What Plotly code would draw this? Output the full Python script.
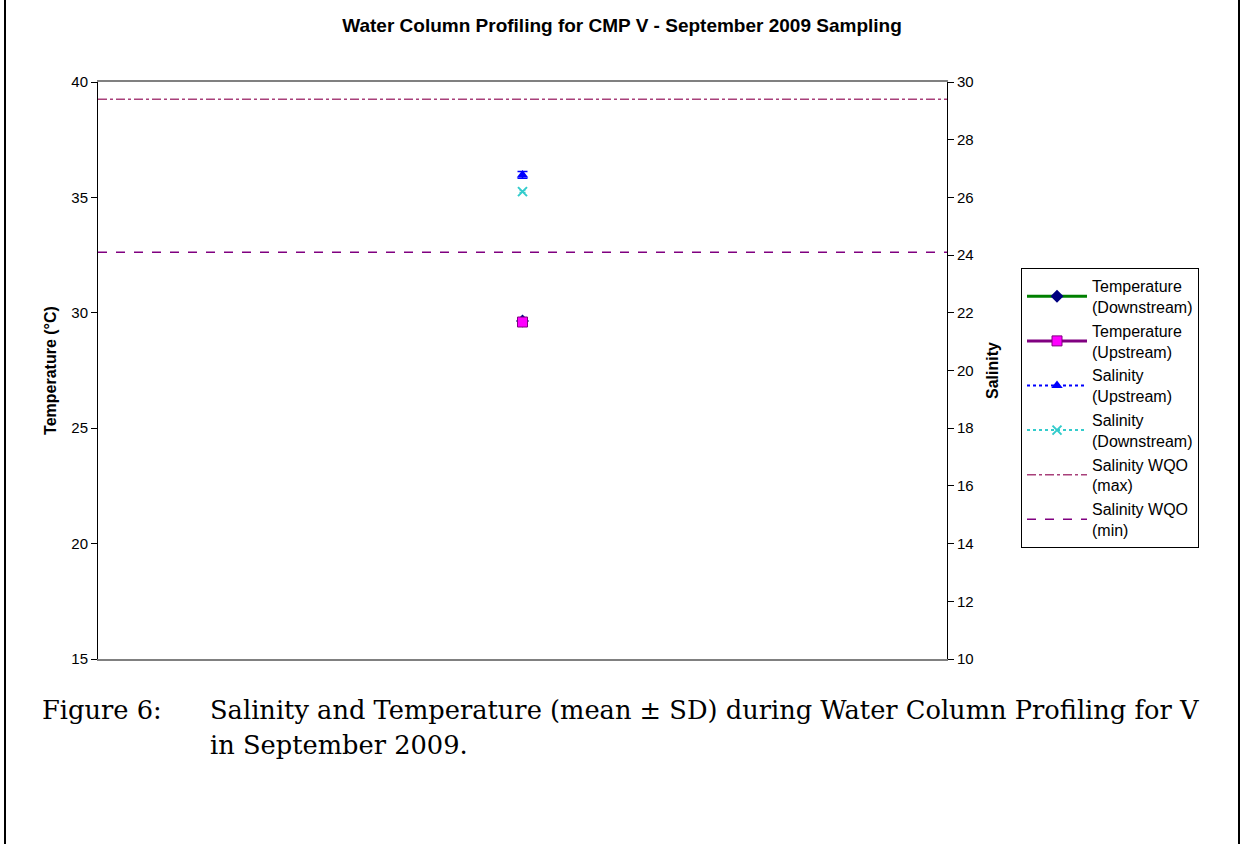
import plotly.graph_objects as go

# ---- data ----
categories = [0]
x_span = [-0.5, 0.5]
temp_down = [29.65]
temp_down_sd = [0.05]
temp_up = [29.6]
temp_up_sd = [0.08]
sal_up = [26.78]
sal_up_sd = [0.12]
sal_down = [26.2]
sal_down_sd = [0.03]
wqo_max = [29.4, 29.4]
wqo_min = [24.1, 24.1]

W, H = 1243, 844
L, R, T, B = 98, 947, 82, 659
pw, ph = R - L, B - T

def px(p):
    return (p - L) / pw

def py(q):
    return (B - q) / ph

fig = go.Figure()

fig.add_trace(go.Scatter(
    x=categories, y=temp_down, name="Temperature<br>(Downstream)", mode="lines+markers",
    legendgroup="g1",
    line=dict(color="#008000", width=3),
    marker=dict(symbol="diamond", size=10, color="#000080"),
    error_y=dict(type="data", array=temp_down_sd, color="#000080", thickness=1, width=3),
    yaxis="y"))
fig.add_trace(go.Scatter(
    x=categories, y=temp_up, name="Temperature<br>(Upstream)", mode="lines+markers",
    legendgroup="g2",
    line=dict(color="#800080", width=3),
    marker=dict(symbol="square", size=10, color="#FF00FF", line=dict(color="#800080", width=1)),
    error_y=dict(type="data", array=temp_up_sd, color="#800080", thickness=1, width=3),
    yaxis="y"))
fig.add_trace(go.Scatter(
    x=categories, y=sal_up, name="Salinity<br>(Upstream)", mode="lines+markers",
    legendgroup="g3",
    line=dict(color="#0000FF", width=2, dash="dot"),
    marker=dict(symbol="triangle-up", size=10, color="#0000FF"),
    error_y=dict(type="data", array=sal_up_sd, color="#0000FF", thickness=1.5, width=5),
    yaxis="y2"))
fig.add_trace(go.Scatter(
    x=categories, y=sal_down, name="Salinity<br>(Downstream)", mode="lines+markers",
    legendgroup="g4",
    line=dict(color="#33CCCC", width=2, dash="dot"),
    marker=dict(symbol="x-thin", size=9, color="#33CCCC", line=dict(color="#33CCCC", width=2)),
    error_y=dict(type="data", array=sal_down_sd, color="#33CCCC", thickness=1, width=3),
    yaxis="y2"))
fig.add_trace(go.Scatter(
    x=x_span, y=wqo_max, name="Salinity WQO<br>(max)", mode="lines",
    legendgroup="g5",
    line=dict(color="#A8407A", width=1.5, dash="dashdot"),
    yaxis="y2"))
fig.add_trace(go.Scatter(
    x=x_span, y=wqo_min, name="Salinity WQO<br>(min)", mode="lines",
    legendgroup="g6",
    line=dict(color="#800080", width=1.5, dash="dash"),
    yaxis="y2"))

FONT = "Arial, Liberation Sans"
axis_font = dict(family=FONT, size=15, color="black")

fig.update_layout(
    width=W, height=H,
    margin=dict(l=L, r=W - R, t=T, b=H - B),
    paper_bgcolor="white", plot_bgcolor="white",
    showlegend=True,
    title=dict(text="<b>Water Column Profiling for CMP V - September 2009 Sampling</b>",
               x=622 / W, xanchor="center", y=1 - 25 / H, yanchor="middle",
               font=dict(family=FONT, size=19, color="black")),
    xaxis=dict(range=x_span, showticklabels=False, ticks="", showgrid=False, zeroline=False,
               showline=True, linecolor="#808080", linewidth=2, mirror=True),
    yaxis=dict(range=[15, 40], dtick=5, ticks="outside", ticklen=6, tickcolor="black",
               showgrid=False, zeroline=False, showline=True, linecolor="black", linewidth=1,
               tickfont=axis_font,
               title=dict(text="<b>Temperature (°C)</b>", font=dict(family=FONT, size=16, color="black"), standoff=10)),
    yaxis2=dict(range=[10, 30], dtick=2, overlaying="y", side="right", ticks="outside", ticklen=6,
                tickcolor="black", showgrid=False, zeroline=False, showline=True,
                linecolor="black", linewidth=1, tickfont=axis_font,
                title=dict(text="<b>Salinity</b>", font=dict(family=FONT, size=16, color="black"), standoff=14)),
    legend=dict(x=px(1021), y=py(268), xanchor="left", yanchor="top",
                bordercolor="black", borderwidth=1, bgcolor="white",
                font=dict(family=FONT, size=16, color="black"),
                traceorder="grouped", itemwidth=60, tracegroupgap=0),
)

# page borders (left and right)
for xp in (5, 1239):
    fig.add_shape(type="line", xref="paper", yref="paper",
                  x0=px(xp), x1=px(xp), y0=py(0), y1=py(H), line=dict(color="black", width=2))

cap_font = dict(family="Palatino Linotype, Palatino, DejaVu Serif, serif", size=25.7, color="black")
fig.add_annotation(text="Figure 6:", xref="paper", yref="paper", x=px(40), y=py(710),
                   xanchor="left", yanchor="middle", showarrow=False, font=cap_font)
fig.add_annotation(text="Salinity and Temperature (mean ± SD) during Water Column Profiling for V",
                   xref="paper", yref="paper", x=px(208), y=py(710),
                   xanchor="left", yanchor="middle", showarrow=False, font=cap_font)
fig.add_annotation(text="in September 2009.", xref="paper", yref="paper", x=px(208), y=py(745),
                   xanchor="left", yanchor="middle", showarrow=False, font=cap_font)

fig.write_html("out.html", config={"displayModeBar": False},
               post_script="document.body.style.margin='0px';document.body.style.overflow='hidden';")
